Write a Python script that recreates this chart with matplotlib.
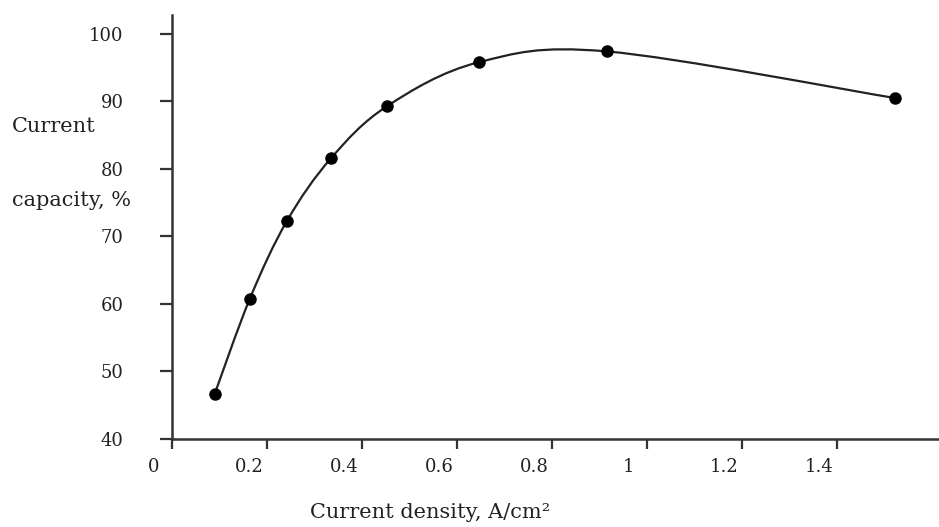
import matplotlib

matplotlib.use("Agg")
import matplotlib.pyplot as plt
import matplotlib.transforms as mtransforms
import numpy as np
from matplotlib.path import Path
from matplotlib.patches import PathPatch

# Current density (A/cm2) vs current capacity (%)
density = [0.09, 0.164, 0.242, 0.335, 0.453, 0.646, 0.916, 1.522]
capacity = [46.7, 60.8, 72.3, 81.6, 89.3, 95.8, 97.4, 90.5]
x_ticks = [0, 0.2, 0.4, 0.6, 0.8, 1.0, 1.2, 1.4]
x_tick_labels = ["0", "0.2", "0.4", "0.6", "0.8", "1", "1.2", "1.4"]
y_ticks = [40, 50, 60, 70, 80, 90, 100]

plt.rcParams["font.family"] = ["DejaVu Serif"]
ink = "#222222"

fig = plt.figure(figsize=(9.39, 5.27), dpi=100)
ax = fig.add_axes([0.1832, 0.167, 0.8168, 0.8046])


def smooth_path(xs, ys):
    # Catmull-Rom style smoothing turned into cubic Bezier segments
    pts = np.column_stack([xs, ys])
    verts = [pts[0]]
    codes = [Path.MOVETO]
    n = len(pts)
    for i in range(n - 1):
        p0 = pts[i - 1] if i > 0 else pts[i]
        p1 = pts[i]
        p2 = pts[i + 1]
        p3 = pts[i + 2] if i + 2 < n else pts[i + 1]
        c1 = p1 + (p2 - p0) / 6.0
        c2 = p2 - (p3 - p1) / 6.0
        verts += [c1, c2, p2]
        codes += [Path.CURVE4] * 3
    return Path(verts, codes)


ax.add_patch(PathPatch(smooth_path(density, capacity), fill=False,
                       edgecolor=ink, lw=1.6, zorder=2))
ax.plot(density, capacity, "o", color="black", markersize=8, zorder=3)

ax.set_xlim(0, 1.615)
ax.set_ylim(40, 102.8)

for side in ("top", "right"):
    ax.spines[side].set_visible(False)
for side in ("left", "bottom"):
    ax.spines[side].set_linewidth(1.8)
    ax.spines[side].set_color("#333333")

ax.set_xticks(x_ticks)
ax.set_xticklabels(x_tick_labels)
ax.set_yticks(y_ticks)
ax.tick_params(axis="y", direction="out", length=9, width=1.6, pad=26,
               labelsize=13, colors="#333333", labelcolor=ink)
ax.tick_params(axis="x", direction="out", length=7, width=1.6, pad=7,
               labelsize=13, colors="#333333", labelcolor=ink)

# x tick labels sit a little left of their ticks in the original
shift = mtransforms.ScaledTranslation(-18 / 100, 0, fig.dpi_scale_trans)
for lbl in ax.get_xticklabels():
    lbl.set_transform(lbl.get_transform() + shift)

fig.text(12 / 939, 1 - 127 / 527, "Current", ha="left", va="center",
         fontsize=15, color=ink)
fig.text(12 / 939, 1 - 200 / 527, "capacity, %", ha="left", va="center",
         fontsize=15, color=ink)
fig.text(430 / 939, 1 - 513 / 527, "Current density, A/cm²", ha="center",
         va="center", fontsize=15, color=ink)

fig.savefig("out.png", dpi=100)
